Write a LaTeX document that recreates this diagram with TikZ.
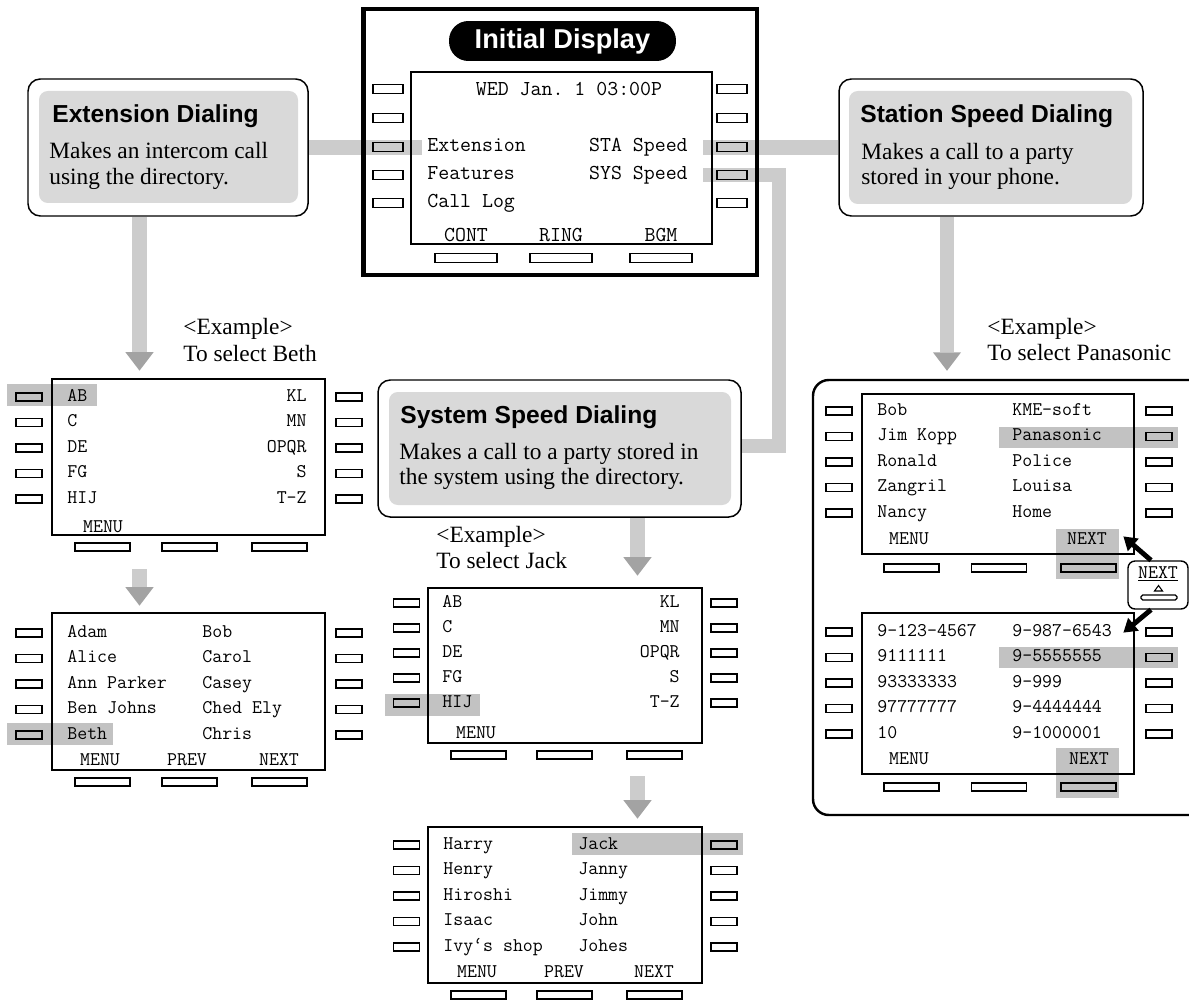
\documentclass[tikz,border=0pt]{standalone}
\usepackage{fontspec}
\setmainfont{Liberation Serif}
\setsansfont{Liberation Sans}
\usetikzlibrary{arrows.meta, calc, fit, backgrounds}
\frenchspacing

\definecolor{bandgray}{gray}{0.80}
\definecolor{headgray}{gray}{0.64}
\definecolor{boxgray}{gray}{0.85}
\definecolor{selgray}{gray}{0.76}

\begin{document}
\begin{tikzpicture}[x=0.02cm, y=-0.02cm,
  band/.style={draw=bandgray, line width=8.5pt},
  bandarrow/.style={band, -{Triangle[width=16pt, length=10.5pt, line width=0pt, color=headgray]}},
  funcbox/.style={draw, line width=0.85pt, rounded corners=7pt, fill=white, inner sep=0pt},
  funcfill/.style={fill=boxgray, rounded corners=5pt, inner sep=0pt},
  functitle/.style={anchor=base west, inner sep=0pt, font=\sffamily\bfseries\fontsize{14}{16}\selectfont},
  functext/.style={anchor=base west, inner sep=0pt, font=\fontsize{13.3}{15}\selectfont},
  lcd/.style={draw, line width=1.5pt, inner sep=0pt},
  key/.style={draw, line width=0.7pt, minimum width=0.52cm, minimum height=0.16cm, inner sep=0pt},
  softkey/.style={key, minimum width=1.1cm},
  lcdtext/.style={inner sep=0pt, font=\ttfamily\fontsize{11}{12}\selectfont},
  maintext/.style={inner sep=0pt, font=\ttfamily\fontsize{12.1}{13}\selectfont},
  sel/.style={fill=selgray, inner sep=0pt},
  nextarrow/.style={line width=2.8pt, -{Triangle[width=9pt, length=7.5pt]}}
]
\useasboundingbox (0,0) rectangle (1189,1000);

%% --- Initial display (top centre) ---
\node[draw, line width=2.3pt, inner sep=0pt, fit={(363.5,9) (757,275)}] (phone) {};
\node[fill=black, text=white, rounded corners=11pt, minimum width=4.54cm, minimum height=0.8cm,
      font=\sffamily\bfseries\fontsize{15.5}{18}\selectfont] (title) at (562.5,41) {Initial Display};
\node[lcd, line width=1.2pt, fit={(411,72) (712,244)}] (mainlcd) {};
\foreach \y [count=\i] in {89,118,147,175,203} {
  \node[key, minimum width=0.6cm, minimum height=0.18cm] (ml\i) at (388,\y) {};
  \node[key, minimum width=0.6cm, minimum height=0.18cm] (mr\i) at (732,\y) {};
}
\foreach \x/\t [count=\i] in {466/CONT, 561/RING, 661/BGM} {
  \node[softkey, minimum width=1.24cm, minimum height=0.18cm] (ms\i) at (\x,258) {};
  \node[maintext] (msl\i) at (\x,235) {\t};
}
\node[maintext] (date) at (569,89) {WED Jan. 1 03:00P};
\node[maintext, anchor=mid west] (extitem) at (427,147) {Extension};
\node[maintext, anchor=mid west] (featitem) at (427,175) {Features};
\node[maintext, anchor=mid west] (logitem) at (427,203) {Call Log};
\node[maintext, anchor=mid east] (staitem) at (688,147) {STA Speed};
\node[maintext, anchor=mid east] (sysitem) at (688,175) {SYS Speed};

%% --- Extension Dialing (left) ---
\node[funcbox, fit={(28,79) (308,216)}] (ext) {};
\node[funcfill, fit={(39,91) (298,203)}] (extfill) {};
\node[functitle] (extt) at (52,123) {Extension Dialing};
\node[functext] (extd1) at (49,159) {Makes an intercom call};
\node[functext] (extd2) at (49,185) {using the directory.};

%% --- Station Speed Dialing (right) ---
\node[funcbox, fit={(839,79) (1143,216)}] (sta) {};
\node[funcfill, fit={(849,91) (1132,204)}] (stafill) {};
\node[functitle] (stat) at (860,123) {Station Speed Dialing};
\node[functext] (stad1) at (861,160) {Makes a call to a party};
\node[functext] (stad2) at (861,185) {stored in your phone.};

%% --- System Speed Dialing (centre) ---
\node[funcbox, fit={(378,380) (741,517)}] (sys) {};
\node[funcfill, fit={(389,392) (731,505)}] (sysfill) {};
\node[functitle] (syst) at (400,423) {System Speed Dialing};
\node[functext] (sysd1) at (399,459) {Makes a call to a party stored in};
\node[functext] (sysd2) at (399,484) {the system using the directory.};

%% --- Examples ---
\node[functext] (exA1) at (183,334) {<Example>};
\node[functext] (exA2) at (183,361) {To select Beth};
\node[functext] (exC1) at (436,542) {<Example>};
\node[functext] (exC2) at (436,568) {To select Jack};
\node[functext] (exE1) at (987,334) {<Example>};
\node[functext] (exE2) at (987,360) {To select Panasonic};

%% --- Extension: index screen ---
\node[sel, fit={(7,384) (97,406)}] (selA) {};
\node[lcd, fit={(52,379) (325,535)}] (lcdA) {};
\foreach \ca/\cb [count=\i] in {AB/KL, C/MN, DE/OPQR, FG/S, HIJ/T-Z} {
  \node[key] (aL\i) at (29,{371.5+25.5*\i}) {};
  \node[key] (aR\i) at (349,{371.5+25.5*\i}) {};
  \node[lcdtext, anchor=mid west] (aTa\i) at (67,{371.5+25.5*\i}) {\ca};
  \node[lcdtext, anchor=mid east] (aTb\i) at (307,{371.5+25.5*\i}) {\cb};
}
\foreach \x [count=\i] in {102.5,189.5,279.5}
  \node[softkey] (aS\i) at (\x,547) {};
\node[lcdtext] (aMenu) at (103,527) {MENU};

%% --- Extension: name screen ---
\node[sel, fit={(7,723) (113,745)}] (selB) {};
\node[lcd, fit={(52,613) (325,770)}] (lcdB) {};
\foreach \ca/\cb [count=\i] in {Adam/Bob, Alice/Carol, Ann Parker/Casey, Ben Johns/Ched Ely, Beth/Chris} {
  \node[key] (bL\i) at (29,{607.5+25.5*\i}) {};
  \node[key] (bR\i) at (349,{607.5+25.5*\i}) {};
  \node[lcdtext, anchor=mid west] (bTa\i) at (67,{607.5+25.5*\i}) {\ca};
  \node[lcdtext, anchor=mid west] (bTb\i) at (202,{607.5+25.5*\i}) {\cb};
}
\foreach \x/\t [count=\i] in {100/MENU, 187/PREV, 279/NEXT}
  \node[lcdtext] (bM\i) at (\x,760) {\t};
\foreach \x [count=\i] in {102.5,189.5,279.5}
  \node[softkey] (bS\i) at (\x,782) {};

%% --- System: index screen ---
\node[sel, fit={(385,694) (480,716)}] (selC) {};
\node[lcd, fit={(428,588) (702,743)}] (lcdC) {};
\foreach \ca/\cb [count=\i] in {AB/KL, C/MN, DE/OPQR, FG/S, HIJ/T-Z} {
  \node[key] (cL\i) at (406.5,{578+25*\i}) {};
  \node[key] (cR\i) at (724,{578+25*\i}) {};
  \node[lcdtext, anchor=mid west] (cTa\i) at (442,{578+25*\i}) {\ca};
  \node[lcdtext, anchor=mid east] (cTb\i) at (680,{578+25*\i}) {\cb};
}
\foreach \x [count=\i] in {478.5,564.5,654.5}
  \node[softkey] (cS\i) at (\x,755) {};
\node[lcdtext] (cMenu) at (476,733) {MENU};

%% --- System: name screen ---
\node[sel, fit={(572,833) (743,855)}] (selD) {};
\node[lcd, fit={(428,827) (702,983)}] (lcdD) {};
\foreach \ca/\cb [count=\i] in {Harry/Jack, Henry/Janny, Hiroshi/Jimmy, Isaac/John, Ivy‘s shop/Johes} {
  \node[key] (dL\i) at (406.5,{819.5+25.5*\i}) {};
  \node[key] (dR\i) at (724,{819.5+25.5*\i}) {};
  \node[lcdtext, anchor=mid west] (dTa\i) at (443,{819.5+25.5*\i}) {\ca};
  \node[lcdtext, anchor=mid west] (dTb\i) at (578,{819.5+25.5*\i}) {\cb};
}
\foreach \x/\t [count=\i] in {477/MENU, 564/PREV, 654/NEXT}
  \node[lcdtext] (dM\i) at (\x,972) {\t};
\foreach \x [count=\i] in {478.5,564.5,654.5}
  \node[softkey] (dS\i) at (\x,995) {};

%% --- Station: panel with two screens ---
\node[draw, line width=1.4pt, rounded corners=9pt, inner sep=0pt, fit={(813,380) (1230,815)}] (panel) {};
\node[sel, fit={(999,427) (1178,448)}] (selE) {};
\node[sel, fit={(1056,529) (1119,579)}] (selEn) {};
\node[lcd, fit={(862,394) (1134,554)}] (lcdE) {};
\foreach \ca/\cb [count=\i] in {Bob/KME-soft, Jim Kopp/Panasonic, Ronald/Police, Zangril/Louisa, Nancy/Home} {
  \node[key] (eL\i) at (839,{385.5+25.5*\i}) {};
  \node[key] (eR\i) at (1159,{385.5+25.5*\i}) {};
  \node[lcdtext, anchor=mid west] (eTa\i) at (877,{385.5+25.5*\i}) {\ca};
  \node[lcdtext, anchor=mid west] (eTb\i) at (1012,{385.5+25.5*\i}) {\cb};
}
\node[lcdtext] (eMenu) at (909,539) {MENU};
\node[lcdtext] (eNext) at (1087,539) {NEXT};
\foreach \x [count=\i] in {911.5,999,1088.5}
  \node[softkey] (eS\i) at (\x,568) {};

\node[sel, fit={(999,647) (1178,668)}] (selF) {};
\node[sel, fit={(1056,748) (1119,798)}] (selFn) {};
\node[lcd, fit={(862,613) (1134,774)}] (lcdF) {};
\foreach \ca/\cb [count=\i] in {9-123-4567/9-987-6543, 9111111/9-5555555, 93333333/9-999, 97777777/9-4444444, 10/9-1000001} {
  \node[key] (fL\i) at (839,{606.5+25.5*\i}) {};
  \node[key] (fR\i) at (1159,{606.5+25.5*\i}) {};
  \node[lcdtext, anchor=mid west] (fTa\i) at (877,{606.5+25.5*\i}) {\ca};
  \node[lcdtext, anchor=mid west] (fTb\i) at (1012,{606.5+25.5*\i}) {\cb};
}
\node[lcdtext] (fMenu) at (909,759) {MENU};
\node[lcdtext] (fNext) at (1089,759) {NEXT};
\foreach \x [count=\i] in {911.5,999,1088.5}
  \node[softkey] (fS\i) at (\x,787) {};

%% --- NEXT key icon ---
\node[draw, fill=white, line width=0.8pt, rounded corners=4pt, inner sep=0pt, fit={(1128,561) (1188,609)}] (nexticon) {};
\node[lcdtext] (nextlbl) at (1158,574) {\underline{NEXT}};
\draw[line width=0.6pt] (1154.5,591) -- (1162.5,591) -- (1158.5,585.5) -- cycle;
\node[key, rounded corners=1pt, minimum width=0.72cm, minimum height=0.1cm] (nextkey) at (1159,597.5) {};
\draw[nextarrow] ($(nexticon.north)+(-7,0)$) -- ($(lcdE.south east)+(-12,-19)$);
\draw[nextarrow] ($(nexticon.south)+(-7,0)$) -- ($(lcdF.north east)+(-12,21)$);

%% --- Gray connectors ---
\begin{scope}[on background layer]
\coordinate (systurn) at (779,446);
\draw[band] (ext.east) -- ($(mainlcd.west |- ext.east)+(12,0)$);
\draw[band] ($(mainlcd.east |- sta.west)+(-10,0)$) -- (sta.west);
\draw[band] ($(mainlcd.east |- mr4)+(-10,0)$) -| (systurn) -- (sys.east |- systurn);
\draw[bandarrow] ($(ext.south)+(-28.5,0)$) -- ($(ext.south |- lcdA.north)+(-28.5,-7)$);
\draw[bandarrow] ($(lcdA.south)+(-49,33)$) -- ($(lcdB.north)+(-49,-6)$);
\draw[bandarrow] ($(sta.south)+(-44,0)$) -- ($(sta.south |- panel.north)+(-44,-8)$);
\draw[bandarrow] ($(sys.south)+(78,0)$) -- ($(sys.south |- lcdC.north)+(78,-11)$);
\draw[bandarrow] ($(lcdC.south)+(72.5,32)$) -- ($(lcdD.north)+(72.5,-7)$);
\end{scope}

\end{tikzpicture}
\end{document}
